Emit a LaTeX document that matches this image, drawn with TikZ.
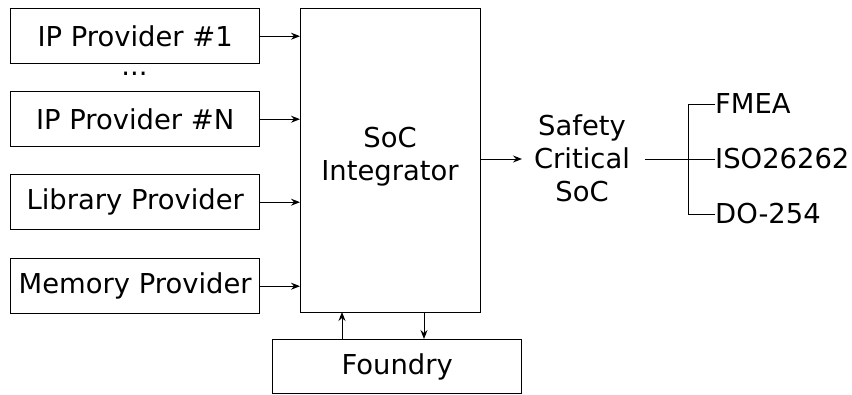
\documentclass[tikz,border=0pt]{standalone}
\usepackage{fontspec}
\setmainfont{DejaVu Sans}
\usetikzlibrary{arrows.meta}
\begin{document}
\begin{tikzpicture}[x=1pt,y=-1pt,
  blk/.style={draw, line width=1.4pt, inner sep=0pt, anchor=north west},
  txt/.style={font=\fontsize{27.4}{33}\selectfont, align=center, inner sep=0pt},
  arr/.style={line width=1pt, -{Stealth[length=9pt,width=7pt,inset=3pt]}},
  ln/.style={line width=1pt}]
\useasboundingbox (0,0) rectangle (852,394);
\node[blk, minimum width=249pt, minimum height=55pt] (ip1) at (10,8) {};
\node[txt] at (ip1.center) {IP Provider \#1};
\node[txt] (dots) at (134.5,74) {...};
\node[blk, minimum width=249pt, minimum height=55pt] (ipn) at (10,91) {};
\node[txt] at (ipn.center) {IP Provider \#N};
\node[blk, minimum width=249pt, minimum height=55pt] (lib) at (10,174) {};
\node[txt] at (lib.center) {Library Provider};
\node[blk, minimum width=249pt, minimum height=55pt] (mem) at (10,258) {};
\node[txt] at (mem.center) {Memory Provider};
\node[blk, minimum width=180pt, minimum height=304pt] (soc) at (300,8) {};
\node[txt] at (390,157) {SoC\\Integrator};
\node[blk, minimum width=249pt, minimum height=54pt] (fdy) at (272,339) {};
\node[txt] at (fdy.center) {Foundry};
\node[txt] (saf) at (582,158) {Safety\\Critical\\SoC};
\coordinate (br) at (688,159);
\node[txt, anchor=west] (fmea) at (715,104) {FMEA};
\node[txt, anchor=west] (iso) at (715,159) {ISO26262};
\node[txt, anchor=west] (do) at (715,214) {DO-254};
\draw[arr] (ip1.east) -- (ip1.east -| soc.west);
\draw[arr] (ipn.east) -- (ipn.east -| soc.west);
\draw[arr] (lib.east) -- (lib.east -| soc.west);
\draw[arr] (mem.east) -- (mem.east -| soc.west);
\draw[arr] (342,339) -- (342,312);
\draw[arr] (424,312) -- (424,339);
\draw[arr] (480,159) -- (522,159);
\draw[ln] (645,159) -- (br);
\draw[ln] (fmea.west) -- (688,104) -- (688,214) -- (do.west);
\draw[ln] (br) -- (iso.west);
\end{tikzpicture}
\end{document}
